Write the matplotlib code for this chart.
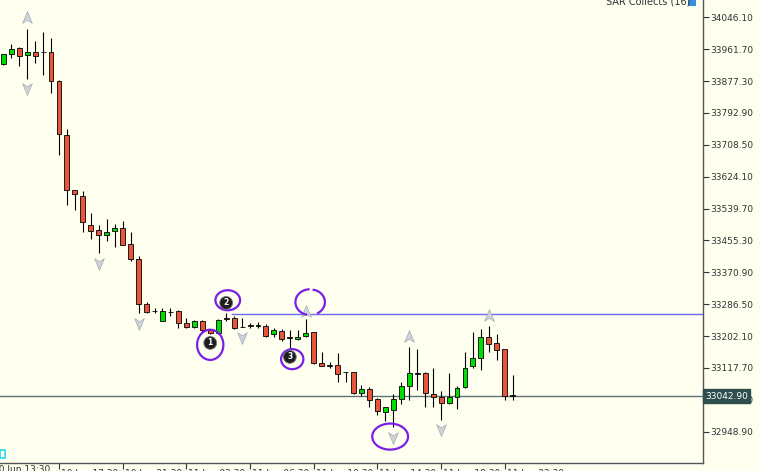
import numpy as np
import matplotlib.pyplot as plt
from matplotlib.path import Path
from matplotlib.patches import Ellipse, Rectangle
from matplotlib.transforms import blended_transform_factory, ScaledTranslation

## data (30 min candles)
opens = [33922, 33948, 33966, 33945, 33955, 33954, 33955, 33877, 33735, 33589,
         33574, 33497, 33483, 33469, 33480, 33488, 33445, 33406, 33286, 33268,
         33242, 33267, 33268, 33237, 33227, 33241, 33218, 33210, 33249, 33249,
         33227, 33231, 33230, 33229, 33208, 33216, 33199, 33194, 33202, 33212,
         33130, 33125, 33126, 33106, 33106, 33052, 33061, 33035, 33002, 33006,
         33036, 33071, 33104, 33105, 33048, 33040, 33024, 33042, 33066, 33123,
         33145, 33200, 33183, 33168, 33045]
highs = [33950, 33975, 33967, 34014, 33983, 34006, 33990, 33879, 33750, 33590,
         33587, 33529, 33497, 33511, 33499, 33506, 33477, 33414, 33293, 33276,
         33276, 33277, 33270, 33249, 33245, 33245, 33220, 33247, 33262, 33255,
         33249, 33237, 33239, 33234, 33223, 33221, 33218, 33218, 33247, 33214,
         33161, 33134, 33157, 33108, 33108, 33073, 33068, 33037, 33015, 33049,
         33080, 33172, 33168, 33106, 33118, 33058, 33104, 33070, 33161, 33214,
         33220, 33229, 33207, 33169, 33099]
lows = [33920, 33939, 33918, 33883, 33926, 33893, 33845, 33681, 33549, 33536,
        33477, 33458, 33421, 33455, 33439, 33442, 33401, 33262, 33262, 33262,
        33241, 33256, 33223, 33223, 33223, 33211, 33208, 33208, 33242, 33222,
        33225, 33224, 33223, 33199, 33201, 33190, 33165, 33191, 33199, 33128,
        33123, 33117, 33081, 33080, 33050, 33044, 33015, 32993, 32978, 32962,
        33022, 33033, 33059, 33015, 33015, 32980, 33022, 33008, 33064, 33118,
        33112, 33159, 33139, 33033, 33033]
closes = [33948, 33962, 33944, 33955, 33943, 33953, 33877, 33736, 33589, 33577,
          33503, 33480, 33469, 33477, 33488, 33443, 33406, 33286, 33267, 33269,
          33268, 33266, 33236, 33227, 33241, 33218, 33211, 33245, 33248, 33223,
          33226, 33230, 33231, 33202, 33218, 33194, 33198, 33201, 33211, 33130,
          33124, 33124, 33102, 33107, 33052, 33061, 33033, 33004, 33014, 33036,
          33071, 33104, 33103, 33051, 33042, 33024, 33042, 33065, 33118, 33145,
          33200, 33181, 33165, 33044, 33043]

# fractal arrows: candle index and price
upIdx = [3, 38, 51, 61]
upPrice = [34044, 33266, 33200, 33255]
downIdx = [3, 12, 17, 30, 49, 55]
downPrice = [33859, 33396, 33237, 33200, 32935, 32956]

# price axis
yTicks = [34046.10, 33961.70, 33877.30, 33792.90, 33708.50, 33624.10, 33539.70,
          33455.30, 33370.90, 33286.50, 33202.10, 33117.70, 33033.30, 32948.90]
bid = 33042.90
level = 33260.6  # blue horizontal line
levelStart = 28.7

# time axis
xTickIdx = [-1, 7, 15, 23, 31, 39, 47, 55, 63]
xTickLabels = ['10 Jun 13:30', '10 Jun 17:30', '10 Jun 21:30', '11 Jun 02:30',
               '11 Jun 06:30', '11 Jun 10:30', '11 Jun 14:30', '11 Jun 18:30',
               '11 Jun 22:30']

# numbered labels and hand drawn circles (index, price)
numLabels = ['2', '1', '3']
numIdx = [28, 26, 36]
numPrice = [33290, 33184, 33147]
circIdx = [28.2, 26.0, 36.3, 48.6]
circPrice = [33297, 33179, 33141, 32936]
circW = [3.1, 3.3, 2.8, 4.5]
circH = [53, 80, 53, 69]

## figure
bg = '#FFFFF0'
fig = plt.figure(figsize=(7.6, 4.71), dpi=100, facecolor=bg)
ax = fig.add_axes([0, 8 / 471, 703 / 760, 463 / 471], facecolor=bg)

n = len(opens)
idx = np.arange(n)
o = np.array(opens, float)
c = np.array(closes, float)
up = c >= o
bodyLow = np.minimum(o, c)
bodyH = np.maximum(np.abs(c - o), 0.6)
cols = np.where(up, '#00DD00', '#E8553A')

# horizontal lines
ax.axhline(bid, color='#5F7373', lw=1.0, zorder=1)
ax.plot([levelStart, 200], [level, level], color='#6A6AF5', lw=1.0, zorder=1)

# candles
ax.vlines(idx, lows, highs, color='black', lw=0.8, zorder=2)
ax.bar(idx, bodyH, bottom=bodyLow, width=0.62, color=cols, edgecolor='black',
       linewidth=0.6, zorder=3)

# fractal arrows
upArrow = Path([(0, 1), (0.7, -0.7), (0, -0.25), (-0.7, -0.7), (0, 1)],
               [Path.MOVETO, Path.LINETO, Path.LINETO, Path.LINETO, Path.CLOSEPOLY])
downArrow = Path([(0, -1), (0.7, 0.7), (0, 0.25), (-0.7, 0.7), (0, -1)],
                 [Path.MOVETO, Path.LINETO, Path.LINETO, Path.LINETO, Path.CLOSEPOLY])
ax.scatter(upIdx, upPrice, marker=upArrow, s=100, color='#CDD3D9',
           edgecolor='#A3ACB5', linewidth=0.5, zorder=4)
ax.scatter(downIdx, downPrice, marker=downArrow, s=100, color='#CDD3D9',
           edgecolor='#A3ACB5', linewidth=0.5, zorder=4)

# numbered markers
for t, xi, yi in zip(numLabels, numIdx, numPrice):
    ax.text(xi, yi, t, color='white', fontsize=5.5, fontweight='bold',
            ha='center', va='center', zorder=6,
            bbox=dict(boxstyle='circle,pad=0.25', fc='#1E1E1E', ec='#777777', lw=0.6))

# hand drawn circles
purple = '#7A1FE6'
for xi, yi, w, h in zip(circIdx, circPrice, circW, circH):
    ax.add_patch(Ellipse((xi, yi), w, h, fill=False, ec=purple, lw=1.6, zorder=5))
# open circle around the arrow above candle 38
t1 = np.radians(np.linspace(95, 255, 40))
ax.plot(38.5 + 1.8 * np.cos(t1), 33292 + 34 * np.sin(t1), color=purple, lw=1.6, zorder=5)
t2 = np.radians(np.linspace(-60, 80, 40))
ax.plot(38.7 + 1.7 * np.cos(t2), 33292 + 33 * np.sin(t2), color=purple, lw=1.6, zorder=5)

# axes
ax.set_xlim(-0.41, 87.9)
ax.set_ylim(32866.1, 34091.9)
for s in ['left', 'top']:
    ax.spines[s].set_visible(False)
for s in ['right', 'bottom']:
    ax.spines[s].set_color('#555555')
    ax.spines[s].set_linewidth(1.0)
ax.yaxis.tick_right()
ax.set_yticks(yTicks)
ax.set_yticklabels([f'{v:.2f}' for v in yTicks])
ax.tick_params(axis='y', direction='out', length=4, width=0.8, pad=1,
               labelsize=6.5, colors='#333333')
ax.set_xticks(xTickIdx[1:])
ax.set_xticklabels(xTickLabels[1:], ha='left')
ax.tick_params(axis='x', direction='out', length=4, width=0.8, pad=0.5,
               labelsize=6.5, colors='#333333')
for lab in ax.get_xticklabels():
    lab.set_transform(lab.get_transform() + ScaledTranslation(2 / 100, 0, fig.dpi_scale_trans))
trx = blended_transform_factory(ax.transData, ax.transAxes)
ax.text(xTickIdx[0] - 0.3, -0.0045, xTickLabels[0], transform=trx, ha='left',
        va='top', fontsize=6.5, color='#333333', clip_on=False)

# price box on the axis
trp = blended_transform_factory(ax.transAxes, ax.transData)
ax.text(1.003, bid, '33042.90', transform=trp, ha='left', va='center',
        fontsize=6.5, color='white', zorder=7, clip_on=False,
        bbox=dict(boxstyle='square,pad=0.25', fc='#2F4F4F', ec='#2F4F4F'))

# indicator title, top right (mostly cut off)
fig.text(606 / 760, 1 - 1 / 471, 'SAR Collects (16)', fontsize=7, color='#333333',
         ha='left', va='center')
fig.patches.append(Rectangle((688 / 760, 1 - 6 / 471), 8 / 760, 6 / 471,
                             transform=fig.transFigure, fc='#3A8EE0', ec='none'))
# small cyan mark bottom left
fig.patches.append(Rectangle((0, 1 - 458 / 471), 5 / 760, 8 / 471,
                             transform=fig.transFigure, fill=False, ec='#22D8F0', lw=1.2))

plt.savefig('out.png', dpi=100, facecolor=bg)
